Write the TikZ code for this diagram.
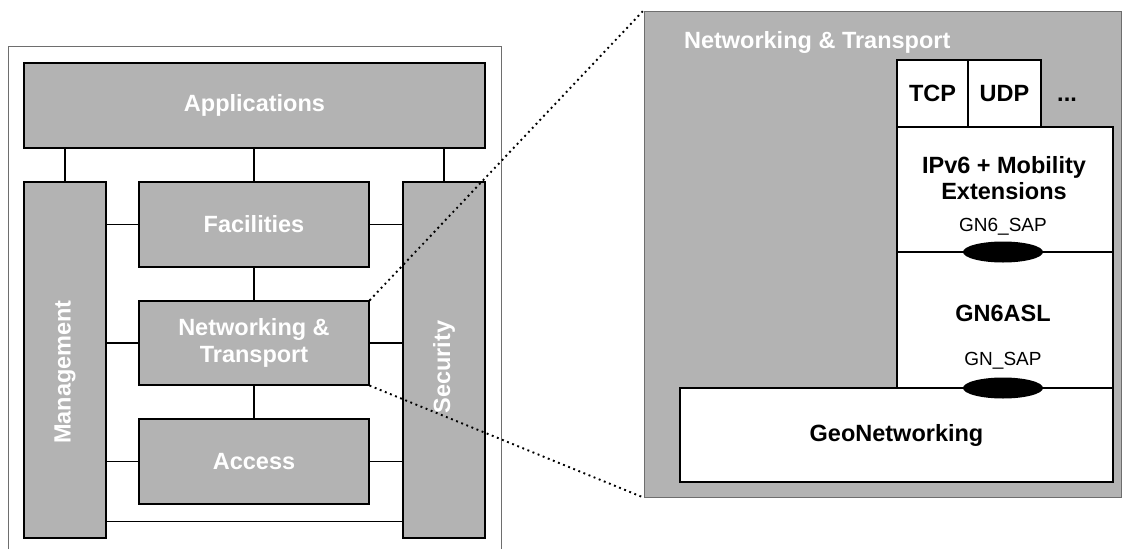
\documentclass[tikz,border=0pt]{standalone}
\usepackage{fontspec}
\setmainfont{Liberation Sans}
\usetikzlibrary{shapes.geometric}
\definecolor{layergray}{RGB}{179,179,179}
\definecolor{framegray}{RGB}{110,110,110}
\newcommand\bigfont{\fontsize{23.5}{26.5}\selectfont\bfseries}
\newcommand\sapfont{\fontsize{19}{22}\selectfont}

\begin{document}
\begin{tikzpicture}[x=1pt,y=-1pt,
    layer/.style={
      draw, line width=1.2pt, fill=layergray,
      text=white, font=\bigfont, align=center, inner sep=0pt
    },
    proto/.style={
      draw, line width=1.2pt, fill=white,
      font=\bigfont, align=center, inner sep=0pt
    },
    panel/.style={
      draw=framegray, line width=1pt, fill=layergray, inner sep=0pt
    },
    sap/.style={
      ellipse, fill=black, minimum width=80pt, minimum height=21pt, inner sep=0pt
    },
    link/.style={
      line width=1.2pt
    },
    zoomline/.style={
      line width=1.9pt, dash pattern=on 1.9pt off 3.6pt
    }
  ]
  \useasboundingbox (0,0) rectangle (1122,549);

  % left stack
  \draw[framegray, line width=1pt] (8,549) |- (501,46) -- (501,549);

  \node[layer, minimum width=461, minimum height=85] (App)  at (254.5,105.5) {Applications};
  \node[layer, minimum width=82,  minimum height=356] (Mgmt) at (65,360) {};
  \node[layer, minimum width=82,  minimum height=356] (Sec)  at (444,360) {};
  \node[layer, minimum width=230, minimum height=85] (Fac)  at (254,224.5) {Facilities};
  \node[layer, minimum width=230, minimum height=84] (Net)  at (254,343) {Networking \&\\Transport};
  \node[layer, minimum width=230, minimum height=85] (Acc)  at (254,461.5) {Access};

  \node[rotate=90, text=white, font=\bigfont] (MgmtText) at (65,372) {Management};
  \node[rotate=90, text=white, font=\bigfont] (SecText)  at (444,367) {Security};

  % links
  \draw[link] (Mgmt.north) -- (Mgmt.north |- App.south);
  \draw[link] (Fac.north)  -- (Fac.north |- App.south);
  \draw[link] (Sec.north)  -- (Sec.north |- App.south);
  \draw[link] (Fac.south)  -- (Net.north);
  \draw[link] (Net.south)  -- (Acc.north);
  \foreach \lyr in {Fac,Net,Acc} {
    \draw[link] (\lyr.west) -- (\lyr.west -| Mgmt.east);
    \draw[link] (\lyr.east) -- (\lyr.east -| Sec.west);
  }
  \draw[link] ([yshift=17pt]Mgmt.south east) -- ([yshift=17pt]Mgmt.south east -| Sec.west);

  % right zoom
  \node[panel, minimum width=477, minimum height=486] (Panel) at (882.5,254) {};
  \node[anchor=west, text=white, font=\bigfont] (PanelTitle)
    at ([shift={(37,32)}]Panel.north west) {Networking \& Transport};

  \node[proto, minimum width=71,  minimum height=67]  (Tcp)  at (932.5,93.5) {TCP};
  \node[proto, minimum width=73,  minimum height=67]  (Udp)  at (1004.5,93.5) {UDP};
  \node[font=\bigfont] (More) at (1067,100) {...};
  \node[proto, minimum width=216, minimum height=125] (Ipv6) at (1005,189.5) {};
  \node[proto, minimum width=216, minimum height=136] (Asl)  at (1005,320) {};
  \node[proto, minimum width=433, minimum height=94]  (Geo)  at (896.5,435) {GeoNetworking};

  \node[font=\bigfont, align=center] (Ipv6Text) at (1004,178) {IPv6 + Mobility\\Extensions};
  \node[font=\sapfont] (Gn6SapText) at (1003,227) {GN6\_SAP};
  \node[font=\bigfont] (AslText) at (1003,313) {GN6ASL};
  \node[font=\sapfont] (GnSapText) at (1003,361) {GN\_SAP};

  \node[sap] (Gn6Sap) at (1003,252) {};
  \node[sap] (GnSap)  at (1003,388) {};

  % zoom lines
  \draw[zoomline] (Net.north east) -- (Panel.north west);
  \draw[zoomline] (Net.south east) -- (Panel.south west);
\end{tikzpicture}
\end{document}
